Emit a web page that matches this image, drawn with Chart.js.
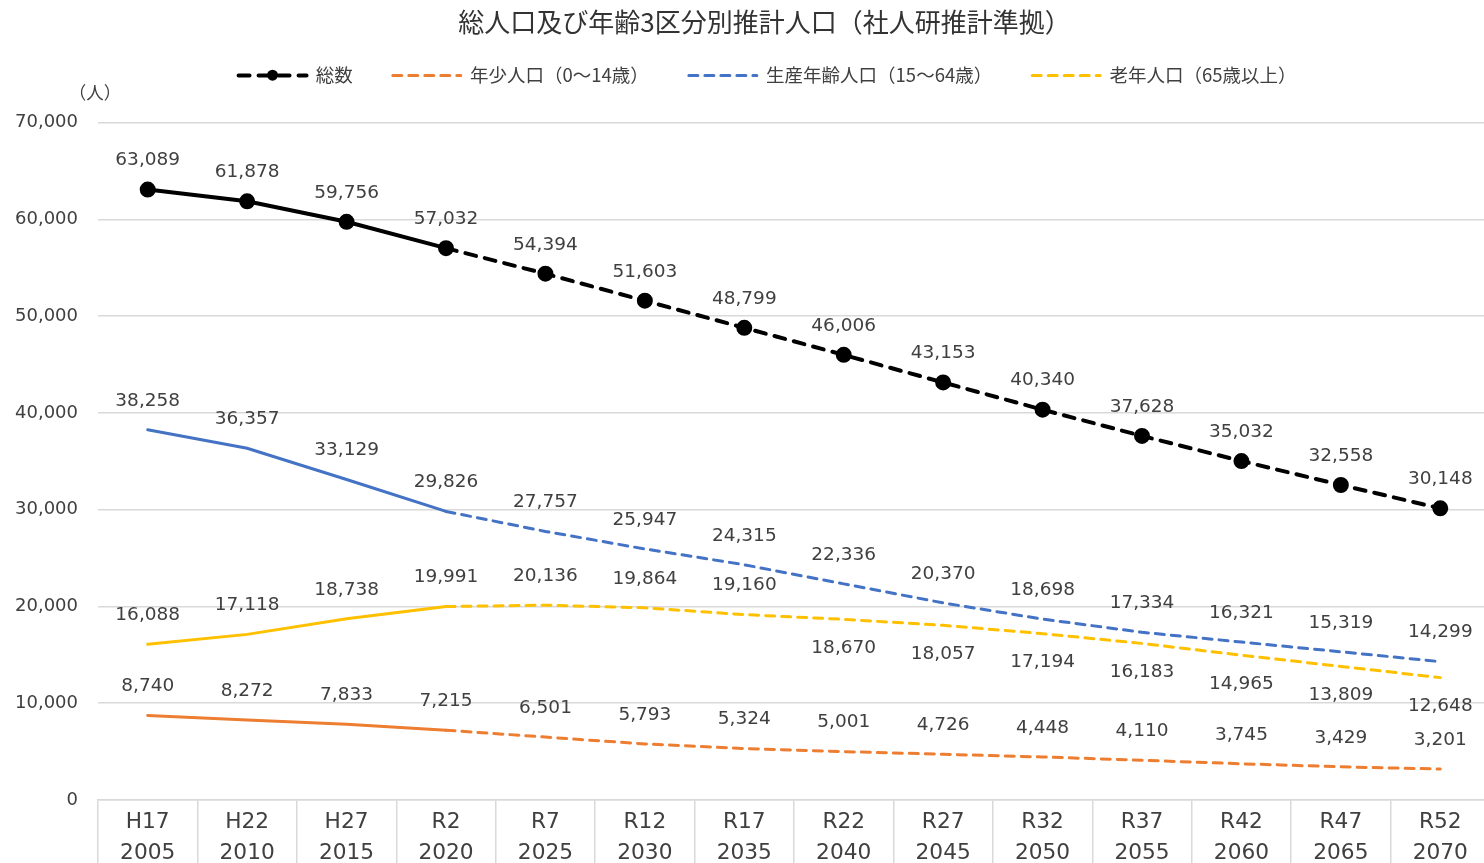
<!DOCTYPE html>
<html lang="ja">
<head>
<meta charset="utf-8">
<title>総人口及び年齢3区分別推計人口</title>
<script src="https://cdn.jsdelivr.net/npm/chart.js@4/dist/chart.umd.min.js"></script>
<style>
  html, body { margin: 0; padding: 0; background: #fff; overflow: hidden; }
  #wrap { position: absolute; left: 0; top: 0; width: 1500px; height: 880px; }
</style>
</head>
<body>
<div id="wrap"><canvas id="myChart" width="1500" height="880"></canvas></div>
<script>
// data
const eraLabels = ['H17', 'H22', 'H27', 'R2', 'R7', 'R12', 'R17', 'R22', 'R27', 'R32', 'R37', 'R42', 'R47', 'R52'];
const yearLabels = ['2005', '2010', '2015', '2020', '2025', '2030', '2035', '2040', '2045', '2050', '2055', '2060', '2065', '2070'];

const totalPop = [63089, 61878, 59756, 57032, 54394, 51603, 48799, 46006, 43153, 40340, 37628, 35032, 32558, 30148];
const youngPop = [8740, 8272, 7833, 7215, 6501, 5793, 5324, 5001, 4726, 4448, 4110, 3745, 3429, 3201];
const workingPop = [38258, 36357, 33129, 29826, 27757, 25947, 24315, 22336, 20370, 18698, 17334, 16321, 15319, 14299];
const elderlyPop = [16088, 17118, 18738, 19991, 20136, 19864, 19160, 18670, 18057, 17194, 16183, 14965, 13809, 12648];

const yTicks = [0, 10000, 20000, 30000, 40000, 50000, 60000, 70000];

const lastActual = 3; // R2 is the last census value, after that the line is dashed
const NUM_FONT = "'DejaVu Sans', 'Noto Sans CJK JP', sans-serif";
const JP_FONT = "'Noto Sans CJK JP', sans-serif";
const TEXT = '#404040';

function makeSet(label, data, color, width, dash, extra) {
  return Object.assign({
    label,
    data,
    borderColor: color,
    backgroundColor: color,
    borderWidth: width,
    borderCapStyle: 'round',
    pointRadius: 0,
    tension: 0,
    legendDash: dash,
    segment: {
      borderDash: ctx => ctx.p0DataIndex >= lastActual ? dash : undefined
    }
  }, extra || {});
}

const datasets = [
  makeSet('総数', totalPop, '#000000', 4, [11, 9], { pointRadius: 6, pointHoverRadius: 6, labelSide: () => -1 }),
  makeSet('年少人口（0～14歳）', youngPop, '#ED7D31', 3, [9, 7], { labelSide: () => -1 }),
  makeSet('生産年齢人口（15～64歳）', workingPop, '#4472C4', 3, [9, 7], { labelSide: () => -1 }),
  makeSet('老年人口（65歳以上）', elderlyPop, '#FFC000', 3, [9, 7], { labelSide: i => i >= 7 ? 1 : -1 })
];

// value labels above / below each point
const valueLabels = {
  id: 'valueLabels',
  afterDatasetsDraw(chart) {
    const ctx = chart.ctx;
    ctx.save();
    ctx.font = '18.5px ' + NUM_FONT;
    ctx.fillStyle = TEXT;
    ctx.textAlign = 'center';
    ctx.textBaseline = 'middle';
    chart.data.datasets.forEach((ds, di) => {
      const meta = chart.getDatasetMeta(di);
      meta.data.forEach((pt, i) => {
        const side = ds.labelSide(i);
        ctx.fillText(ds.data[i].toLocaleString('en-US'), pt.x, pt.y + side * 29);
      });
    });
    ctx.restore();
  }
};

// unit text, title/legend centring and the dot on the legend sample of 総数
const extras = {
  id: 'extras',
  beforeInit(chart) {
    const fit = chart.legend.fit;
    chart.legend.fit = function () {
      fit.call(this);
      this.height += 28;
    };
  },
  afterLayout(chart) {
    if (chart.titleBlock) chart.titleBlock.left += 29;
    if (chart.legend) chart.legend.left += 35;
  },
  afterDraw(chart) {
    const ctx = chart.ctx;
    ctx.save();
    ctx.font = '17.5px ' + JP_FONT;
    ctx.fillStyle = TEXT;
    ctx.textAlign = 'center';
    ctx.textBaseline = 'middle';
    ctx.fillText('（人）', 95, 92);
    const box = chart.legend.legendHitBoxes[0];
    if (box) {
      ctx.fillStyle = '#000';
      ctx.beginPath();
      ctx.arc(box.left + 34, box.top + 9, 5.5, 0, Math.PI * 2);
      ctx.fill();
    }
    ctx.restore();
  }
};

const ctx = document.getElementById('myChart').getContext('2d');
new Chart(ctx, {
  type: 'line',
  data: {
    labels: eraLabels.map((e, i) => [e, yearLabels[i]]),
    datasets
  },
  options: {
    responsive: false,
    animation: false,
    locale: 'en-US',
    layout: { padding: { left: 0, right: 0, top: 0, bottom: 13.5 } },
    plugins: {
      title: {
        display: true,
        text: '総人口及び年齢3区分別推計人口（社人研推計準拠）',
        color: '#333',
        font: { family: JP_FONT, size: 26, weight: 'normal' },
        padding: { top: 7, bottom: -12 }
      },
      legend: {
        display: true,
        labels: {
          usePointStyle: true,
          pointStyleWidth: 68,
          padding: 40,
          color: TEXT,
          font: { family: JP_FONT, size: 18.5 },
          generateLabels: chart => chart.data.datasets.map((ds, i) => ({
            text: ds.label,
            fillStyle: ds.borderColor,
            strokeStyle: ds.borderColor,
            lineWidth: ds.borderWidth,
            lineDash: ds.legendDash,
            lineCap: 'round',
            pointStyle: 'line',
            fontColor: TEXT,
            datasetIndex: i
          }))
        }
      },
      tooltip: { enabled: false }
    },
    scales: {
      x: {
        offset: true,
        afterFit: axis => { axis.height = 66.5; },
        grid: { offset: true, drawOnChartArea: false, drawTicks: true, tickLength: 70, color: '#d9d9d9', lineWidth: 1.5 },
        border: { color: '#d9d9d9', width: 1.5 },
        ticks: {
          padding: -63.5,
          maxRotation: 0,
          autoSkip: false,
          color: TEXT,
          font: { family: NUM_FONT, size: 21.7, lineHeight: 1.43 }
        }
      },
      y: {
        min: 0,
        max: 70000,
        afterBuildTicks: axis => { axis.ticks = yTicks.map(v => ({ value: v })); },
        afterFit: axis => { axis.width = 98; },
        grid: { drawTicks: false, color: '#d9d9d9', lineWidth: 1.5 },
        border: { display: false },
        ticks: {
          padding: 20,
          color: TEXT,
          font: { family: NUM_FONT, size: 18 }
        }
      }
    }
  },
  plugins: [valueLabels, extras]
});
</script>
</body>
</html>
